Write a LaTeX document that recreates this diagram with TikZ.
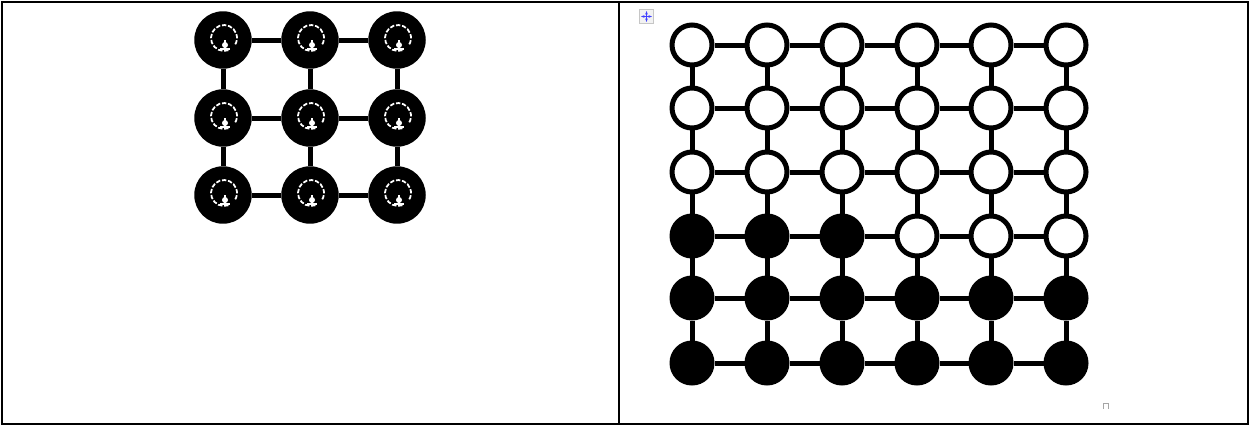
\documentclass[tikz,border=0pt]{standalone}
\usepackage{tikz}
\usetikzlibrary{arrows.meta, positioning, calc}

\tikzset{
  frameline/.style={line width=0.055cm, black},
  bigdot/.style={circle, fill=black, inner sep=0pt, minimum size=1.15cm},
  ringdot/.style={circle, draw=black, fill=white, line width=0.1cm, inner sep=0pt, minimum size=0.8cm},
  fulldot/.style={ringdot, fill=black},
  link/.style={line width=0.1cm, black},
  iconarc/.style={white, line width=1pt, dash pattern=on 2.5pt off 1pt},
}

\begin{document}
\begin{tikzpicture}[x=0.02cm, y=-0.02cm]
  \useasboundingbox (0,0) rectangle (1250,426);

  % Outer frame and divider
  \draw[frameline] (2,2) rectangle (1248,424);
  \draw[frameline] (619,2) -- (619,424);

  % Left panel: 3x3 black dots
  \foreach \r/\y in {1/40, 2/118, 3/195} {
    \foreach \c/\x in {1/223, 2/310, 3/397} {
      \node[bigdot] (L-\r-\c) at (\x,\y) {};
    }
  }
  \foreach \r in {1,2,3} {
    \draw[link] (L-\r-1) -- (L-\r-2);
    \draw[link] (L-\r-2) -- (L-\r-3);
  }
  \foreach \c in {1,2,3} {
    \draw[link] (L-1-\c) -- (L-2-\c);
    \draw[link] (L-2-\c) -- (L-3-\c);
  }
  % white marks inside the black dots
  \foreach \r in {1,2,3} {
    \foreach \c in {1,2,3} {
      \draw[iconarc] ([shift={(1,-2)}]L-\r-\c.center) ++(70:13) arc[start angle=70, end angle=395, radius=13];
      \fill[white] ([shift={(2,5)}]L-\r-\c.center) circle (3);
      \draw[white, line width=1pt] ([shift={(2,0)}]L-\r-\c.center) -- ++(0,10);
      \draw[white, line width=1pt] ([shift={(-3,9)}]L-\r-\c.center) -- ++(10,0);
    }
  }

  % Right panel: 6x6 ring dots
  \foreach \r/\y in {1/45, 2/108, 3/172, 4/236, 5/298, 6/363} {
    \foreach \c/\x in {1/692, 2/767, 3/842, 4/917, 5/991, 6/1066} {
      \pgfmathparse{(\r>4 || (\r==4 && \c<4)) ? 1 : 0}
      \ifnum\pgfmathresult>0
        \node[fulldot] (R-\r-\c) at (\x,\y) {};
      \else
        \node[ringdot] (R-\r-\c) at (\x,\y) {};
      \fi
    }
  }
  \foreach \r in {1,...,6} {
    \foreach \c [evaluate=\c as \n using int(\c+1)] in {1,...,5} {
      \draw[link] (R-\r-\c) -- (R-\r-\n);
    }
  }
  \foreach \c in {1,...,6} {
    \foreach \r [evaluate=\r as \n using int(\r+1)] in {1,...,5} {
      \draw[link] (R-\r-\c) -- (R-\n-\c);
    }
  }

  % Word handles
  \node[draw=gray!45, fill=gray!10, line width=0.5pt, inner sep=0pt, minimum size=0.27cm] (movebox) at (646.5,16.5) {};
  \draw[{Stealth[length=2pt]}-{Stealth[length=2pt]}, blue!75, line width=0.6pt] ([xshift=-0.11cm]movebox.center) -- ([xshift=0.11cm]movebox.center);
  \draw[{Stealth[length=2pt]}-{Stealth[length=2pt]}, blue!75, line width=0.6pt] ([yshift=-0.11cm]movebox.center) -- ([yshift=0.11cm]movebox.center);
  \coordinate (sizemark) at (1105.5,403.5);
  \draw[gray!70, line width=0.5pt] ([shift={(-2.5,5)}]sizemark) -- ++(0,-5) -- ++(5,0) -- ++(0,5);
\end{tikzpicture}
\end{document}
